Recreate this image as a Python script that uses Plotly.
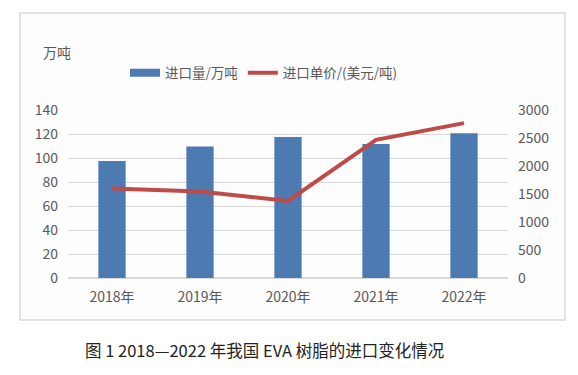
import plotly.graph_objects as go

years = ["2018年", "2019年", "2020年", "2021年", "2022年"]
import_volume = [97.6, 109.6, 117.4, 111.6, 120.6]
unit_price = [1598, 1545, 1377, 2468, 2766]

FONT = "Noto Sans CJK SC"
OFF = 8  # default page body margin
W, H = 570, 367
L, R, T, B = 68 - OFF, W - (508 - OFF), 110 - OFF, H - (278 - OFF)
pw, ph = W - L - R, H - T - B

def px2x(px):
    return (px - OFF - L) / pw

def py2y(py):
    return (H - B - (py - OFF)) / ph

BLUE = "#4E7AB2"
RED = "#BE4B48"

fig = go.Figure()
fig.add_trace(go.Bar(x=years, y=import_volume, name="进口量/万吨",
                     marker=dict(color=BLUE, line=dict(width=0)),
                     width=0.31, yaxis="y", showlegend=False))
# legend swatch for the bars (wide flat rectangle as in the reference)
fig.add_trace(go.Scatter(x=[None], y=[None], name="进口量/万吨", mode="lines",
                         line=dict(color=BLUE, width=8), yaxis="y"))
fig.add_trace(go.Scatter(x=years, y=unit_price, name="进口单价/(美元/吨)",
                         mode="lines", line=dict(color=RED, width=4),
                         yaxis="y2"))

fig.update_layout(
    width=W, height=H,
    margin=dict(l=L, r=R, t=T, b=B),
    paper_bgcolor="white", plot_bgcolor="rgba(0,0,0,0)",
    font=dict(family=FONT, size=14, color="#595959"),
    showlegend=True,
    legend=dict(orientation="h", x=px2x(264), y=py2y(73), xanchor="center", yanchor="middle",
                font=dict(size=13.5, color="#595959"), bgcolor="rgba(0,0,0,0)",
                itemwidth=30, tracegroupgap=0),
    xaxis=dict(showgrid=False, showline=False, ticks="", tickfont=dict(size=14),
               ticklabelstandoff=9),
    yaxis=dict(range=[0, 140], dtick=20, gridcolor="#D9D9D9", gridwidth=1,
               zeroline=True, zerolinecolor="#D9D9D9", showline=False, ticks="",
               tickfont=dict(size=14), ticklabelstandoff=9),
    yaxis2=dict(range=[0, 3000], dtick=500, overlaying="y", side="right",
                showgrid=False, zeroline=False, showline=False, ticks="",
                tickfont=dict(size=14), ticklabelstandoff=9),
    bargap=0.69,
    shapes=[dict(type="rect", xref="paper", yref="paper",
                 x0=px2x(20), x1=px2x(565), y0=py2y(320), y1=py2y(13),
                 line=dict(color="#D9D9D9", width=1.5), fillcolor="#FDFDFD",
                 layer="below")],
    annotations=[
        dict(text="万吨", xref="paper", yref="paper", x=px2x(57), y=py2y(52),
             xanchor="center", yanchor="middle",
             showarrow=False, font=dict(size=14, color="#595959", family=FONT)),
        dict(text="图 1 2018—2022 年我国 EVA 树脂的进口变化情况", xref="paper", yref="paper",
             x=px2x(264), y=py2y(350), xanchor="center", yanchor="middle", showarrow=False,
             font=dict(size=16.5, color="#222222", family=FONT)),
    ],
)

fig.write_html("out.html")
